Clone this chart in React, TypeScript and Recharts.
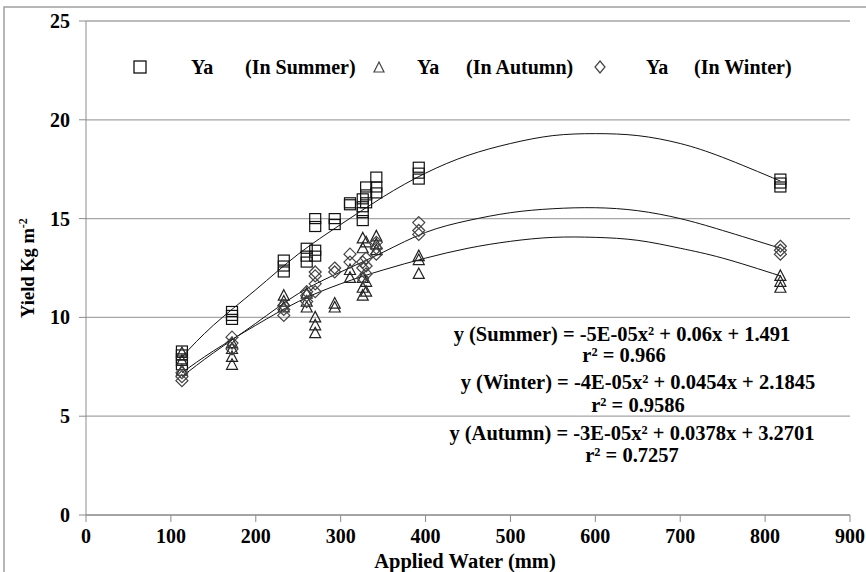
import React from "react";
import {
  CartesianGrid,
  ComposedChart,
  Line,
  Scatter,
  XAxis,
  YAxis,
} from "recharts";

const FONT = "Liberation Serif, Times New Roman, DejaVu Serif, serif";

const xTicks = [0, 100, 200, 300, 400, 500, 600, 700, 800, 900];
const yTicks = [0, 5, 10, 15, 20, 25];

// Ya in summer (squares)
const summerX = [113, 113, 113, 113, 172, 172, 172, 233, 233, 233, 260, 260, 260, 270, 270, 270, 270, 293, 293, 311, 311, 326, 326, 326, 326, 330, 330, 330, 342, 342, 342, 392, 392, 392, 818, 818, 818];
const summerY = [7.6, 7.9, 8.1, 8.3, 9.9, 10.1, 10.3, 12.3, 12.6, 12.9, 12.8, 13.1, 13.5, 13.1, 13.4, 14.6, 15.0, 14.7, 15.0, 15.7, 15.8, 14.9, 15.3, 15.6, 16.0, 15.8, 16.2, 16.6, 16.3, 16.6, 17.1, 17.0, 17.3, 17.6, 16.6, 16.8, 17.0];

// Ya in autumn (triangles)
const autumnX = [113, 113, 113, 172, 172, 172, 172, 233, 233, 233, 260, 260, 260, 270, 270, 270, 293, 293, 311, 311, 326, 326, 326, 326, 326, 330, 330, 330, 342, 342, 342, 392, 392, 392, 818, 818, 818];
const autumnY = [7.3, 7.8, 8.2, 7.6, 8.0, 8.4, 8.7, 10.5, 10.8, 11.1, 10.5, 10.8, 11.2, 9.2, 9.6, 10.0, 10.5, 10.7, 12.0, 12.4, 11.1, 11.5, 12.0, 13.5, 14.0, 11.3, 11.8, 13.8, 13.4, 13.7, 14.1, 12.2, 12.9, 13.1, 11.5, 11.8, 12.1];

// Ya in winter (diamonds)
const winterX = [113, 113, 113, 172, 172, 172, 233, 233, 233, 260, 260, 260, 270, 270, 270, 270, 293, 293, 311, 311, 326, 326, 326, 330, 330, 330, 342, 342, 342, 392, 392, 392, 818, 818, 818];
const winterY = [6.8, 7.0, 7.2, 8.4, 8.7, 9.0, 10.1, 10.4, 10.6, 10.8, 11.1, 11.3, 11.3, 11.7, 12.1, 12.3, 12.3, 12.5, 12.8, 13.2, 12.0, 12.5, 12.8, 12.2, 12.6, 13.0, 13.2, 13.5, 13.8, 14.2, 14.4, 14.8, 13.2, 13.4, 13.6];

// trend curves
const trendX = [113, 150, 200, 250, 300, 350, 400, 450, 500, 550, 600, 650, 700, 750, 818];
const summerTrend = [8.0, 9.6, 11.4, 13.2, 14.7, 16.1, 17.3, 18.2, 18.8, 19.2, 19.3, 19.2, 18.8, 18.1, 16.9];
const winterTrend = [7.0, 8.2, 9.7, 11.2, 12.3, 13.3, 14.3, 14.9, 15.3, 15.5, 15.55, 15.4, 15.0, 14.4, 13.5];
const autumnTrend = [7.2, 8.3, 9.6, 10.8, 11.7, 12.4, 13.0, 13.5, 13.85, 14.05, 14.05, 13.9, 13.5, 13.0, 12.1];

const pts = (xs: number[], ys: number[]) => xs.map((x, i) => ({ x, y: ys[i] }));

const Square = (p: any) => (
  <rect x={p.cx - 5.5} y={p.cy - 5} width={11} height={10} fill="none" stroke="#111" strokeWidth={1.2} />
);
const Triangle = (p: any) => (
  <path
    d={`M${p.cx},${p.cy - 6} L${p.cx + 5.5},${p.cy + 4.5} L${p.cx - 5.5},${p.cy + 4.5} Z`}
    fill="none"
    stroke="#222"
    strokeWidth={1.2}
  />
);
const Diamond = (p: any) => (
  <path
    d={`M${p.cx},${p.cy - 6} L${p.cx + 6},${p.cy} L${p.cx},${p.cy + 6} L${p.cx - 6},${p.cy} Z`}
    fill="none"
    stroke="#444"
    strokeWidth={1.2}
  />
);

const txt = { fontWeight: "bold", fill: "#000", style: { fontFamily: FONT } } as const;

const XTick = (p: any) => (
  <text x={p.x} y={p.y + 17} textAnchor="middle" fontSize={20} {...txt}>
    {p.payload.value}
  </text>
);
const YTick = (p: any) => (
  <text x={p.x} y={p.y + 7} textAnchor="end" fontSize={20} {...txt}>
    {p.payload.value}
  </text>
);

export default function App() {
  return (
    <div style={{ position: "absolute", left: 0, top: 0, width: 866, height: 572, background: "#fff", fontFamily: FONT }}>
      <ComposedChart
        width={866}
        height={572}
        margin={{ top: 21, right: 16, bottom: 0, left: 26 }}
      >
        <CartesianGrid vertical={false} stroke="#a6a6a6" strokeWidth={1.3} />
        <XAxis
          dataKey="x"
          type="number"
          domain={[0, 900]}
          ticks={xTicks}
          height={57}
          stroke="#8c8c8c"
          tickSize={7}
          tickMargin={4}
          tick={XTick}
          allowDuplicatedCategory={false}
        />
        <YAxis
          type="number"
          domain={[0, 25]}
          ticks={yTicks}
          width={60}
          stroke="#8c8c8c"
          tickSize={7}
          tickMargin={9}
          tick={YTick}
        />
        <Line data={pts(trendX, summerTrend)} dataKey="y" type="natural" stroke="#111" strokeWidth={1} dot={false} isAnimationActive={false} />
        <Line data={pts(trendX, winterTrend)} dataKey="y" type="natural" stroke="#111" strokeWidth={1} dot={false} isAnimationActive={false} />
        <Line data={pts(trendX, autumnTrend)} dataKey="y" type="natural" stroke="#111" strokeWidth={1} dot={false} isAnimationActive={false} />
        <Scatter data={pts(summerX, summerY)} dataKey="y" shape={Square} isAnimationActive={false} />
        <Scatter data={pts(autumnX, autumnY)} dataKey="y" shape={Triangle} isAnimationActive={false} />
        <Scatter data={pts(winterX, winterY)} dataKey="y" shape={Diamond} isAnimationActive={false} />
      </ComposedChart>
      <svg
        width={866}
        height={572}
        style={{ position: "absolute", left: 0, top: 0, pointerEvents: "none", fontFamily: FONT }}
      >
        <path d="M4,572 L4,7 L866,7" fill="none" stroke="#a0a0a0" strokeWidth={1.5} />
        {/* legend */}
        <rect x={134} y={61} width={12} height={12} fill="none" stroke="#111" strokeWidth={1.3} />
        <text x={191} y={74} fontSize={20} {...txt}>Ya</text>
        <text x={245} y={74} fontSize={20} {...txt}>(In Summer)</text>
        <path d="M379,62 L384,72 L374,72 Z" fill="none" stroke="#444" strokeWidth={1.2} />
        <text x={417} y={74} fontSize={20} {...txt}>Ya</text>
        <text x={466} y={74} fontSize={20} {...txt}>(In Autumn)</text>
        <path d="M600,61 L605,67 L600,73 L595,67 Z" fill="none" stroke="#444" strokeWidth={1.2} />
        <text x={646} y={74} fontSize={20} {...txt}>Ya</text>
        <text x={694} y={74} fontSize={20} {...txt}>(In Winter)</text>
        {/* equations */}
        <text x={622} y={341} fontSize={20.5} textAnchor="middle" {...txt}>y (Summer) = -5E-05x² + 0.06x + 1.491</text>
        <text x={624} y={362} fontSize={20.5} textAnchor="middle" {...txt}>r² = 0.966</text>
        <text x={638} y={389} fontSize={20.5} textAnchor="middle" {...txt}>y (Winter) = -4E-05x² + 0.0454x + 2.1845</text>
        <text x={638} y={412} fontSize={20.5} textAnchor="middle" {...txt}>r² = 0.9586</text>
        <text x={632} y={440} fontSize={20.5} textAnchor="middle" {...txt}>y (Autumn) = -3E-05x² + 0.0378x + 3.2701</text>
        <text x={632} y={462} fontSize={20.5} textAnchor="middle" {...txt}>r² = 0.7257</text>
        {/* axis titles */}
        <text x={465} y={568} fontSize={20.5} textAnchor="middle" {...txt}>Applied Water (mm)</text>
        <text transform="translate(34,268) rotate(-90)" fontSize={18.5} textAnchor="middle" {...txt}>
          Yield Kg m<tspan dy={-7} fontSize={12}>-2</tspan>
        </text>
      </svg>
    </div>
  );
}
